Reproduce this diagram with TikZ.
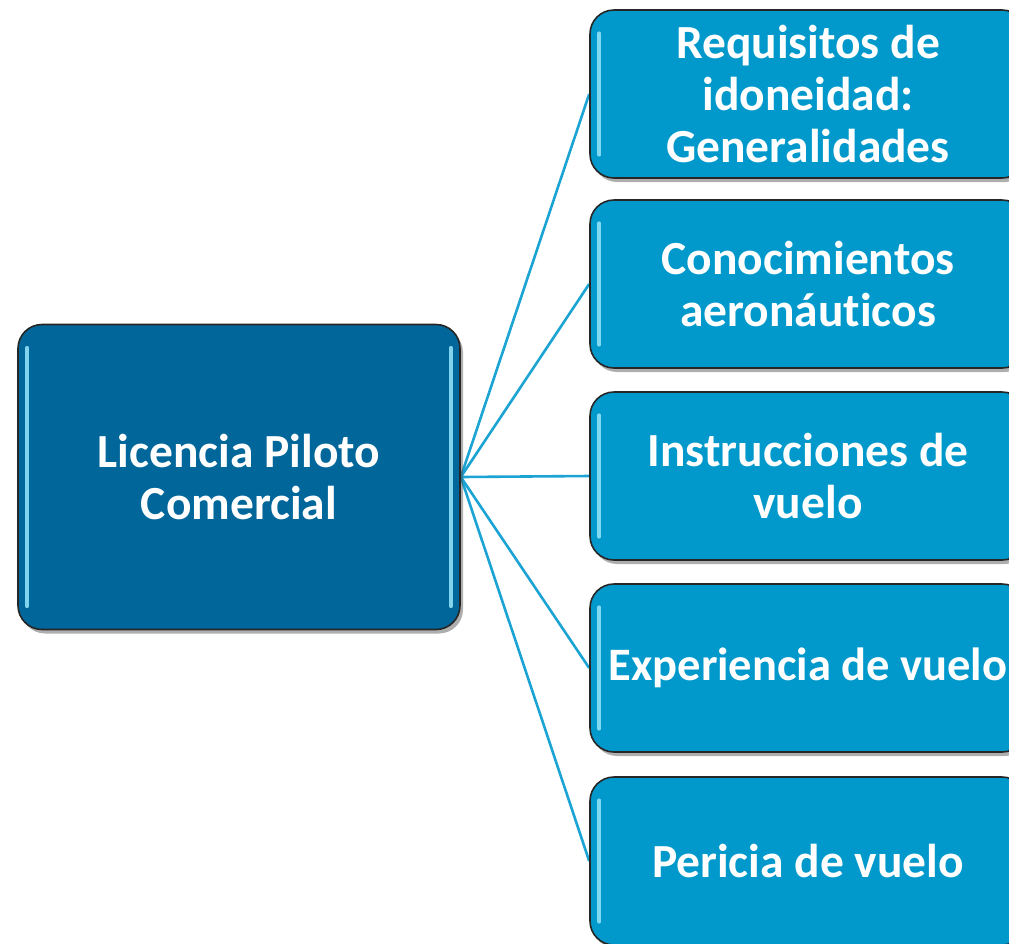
\documentclass[tikz,border=0pt]{standalone}
\usepackage{fontspec}
\setmainfont[Ligatures={NoCommon}]{Carlito}
\usetikzlibrary{shadows,backgrounds,calc}
\definecolor{mainblue}{HTML}{01669A}
\definecolor{subblue}{HTML}{0199CB}
\definecolor{linkblue}{HTML}{1BA3D4}
\definecolor{glint}{HTML}{8FE0F8}
\tikzset{
  boxbase/.style={rounded corners=24pt, draw=black!85, line width=1.6pt,
    text=white, align=center, inner sep=0pt,
    font=\bfseries\fontsize{47.5}{52}\selectfont,
    drop shadow={shadow xshift=3pt, shadow yshift=-4pt, opacity=0.45, fill=black!70}},
  mainbox/.style={boxbase, fill=mainblue, minimum width=442pt, minimum height=305pt},
  subbox/.style={boxbase, fill=subblue, minimum width=436pt, minimum height=168pt},
  link/.style={draw=linkblue, line width=2.6pt},
  glintline/.style={draw=glint, line width=3.5pt, line cap=round, opacity=0.9}
}
\begin{document}
\begin{tikzpicture}[x=1pt,y=-1pt]
\useasboundingbox (0,0) rectangle (1009,943);
\clip (0,0) rectangle (1009,943);
\node[mainbox] (main) at (239,477) {Licencia Piloto\\Comercial};
\node[subbox] (r1) at (808,94) {Requisitos de\\idoneidad:\\Generalidades};
\node[subbox] (r2) at (808,284) {Conocimientos\\aeronáuticos};
\node[subbox] (r3) at (808,476) {Instrucciones de\\vuelo};
\node[subbox, font=\bfseries\fontsize{46.5}{52}\selectfont] (r4) at (808,668) {\raisebox{-4pt}{Experiencia de vuelo}};
\node[subbox] (r5) at (808,861) {Pericia de vuelo};
\foreach \n in {main,r1,r2,r3,r4,r5}{
  \draw[glintline] ($(\n.north west)+(10pt,-24pt)$) -- ($(\n.south west)+(10pt,24pt)$);
  \draw[glintline] ($(\n.north east)+(-10pt,-24pt)$) -- ($(\n.south east)+(-10pt,24pt)$);
}
\begin{pgfonlayer}{background}
\foreach \n in {r1,r2,r3,r4,r5}{
  \draw[link] (main.east) -- (\n.west);
}
\end{pgfonlayer}
\end{tikzpicture}
\end{document}
